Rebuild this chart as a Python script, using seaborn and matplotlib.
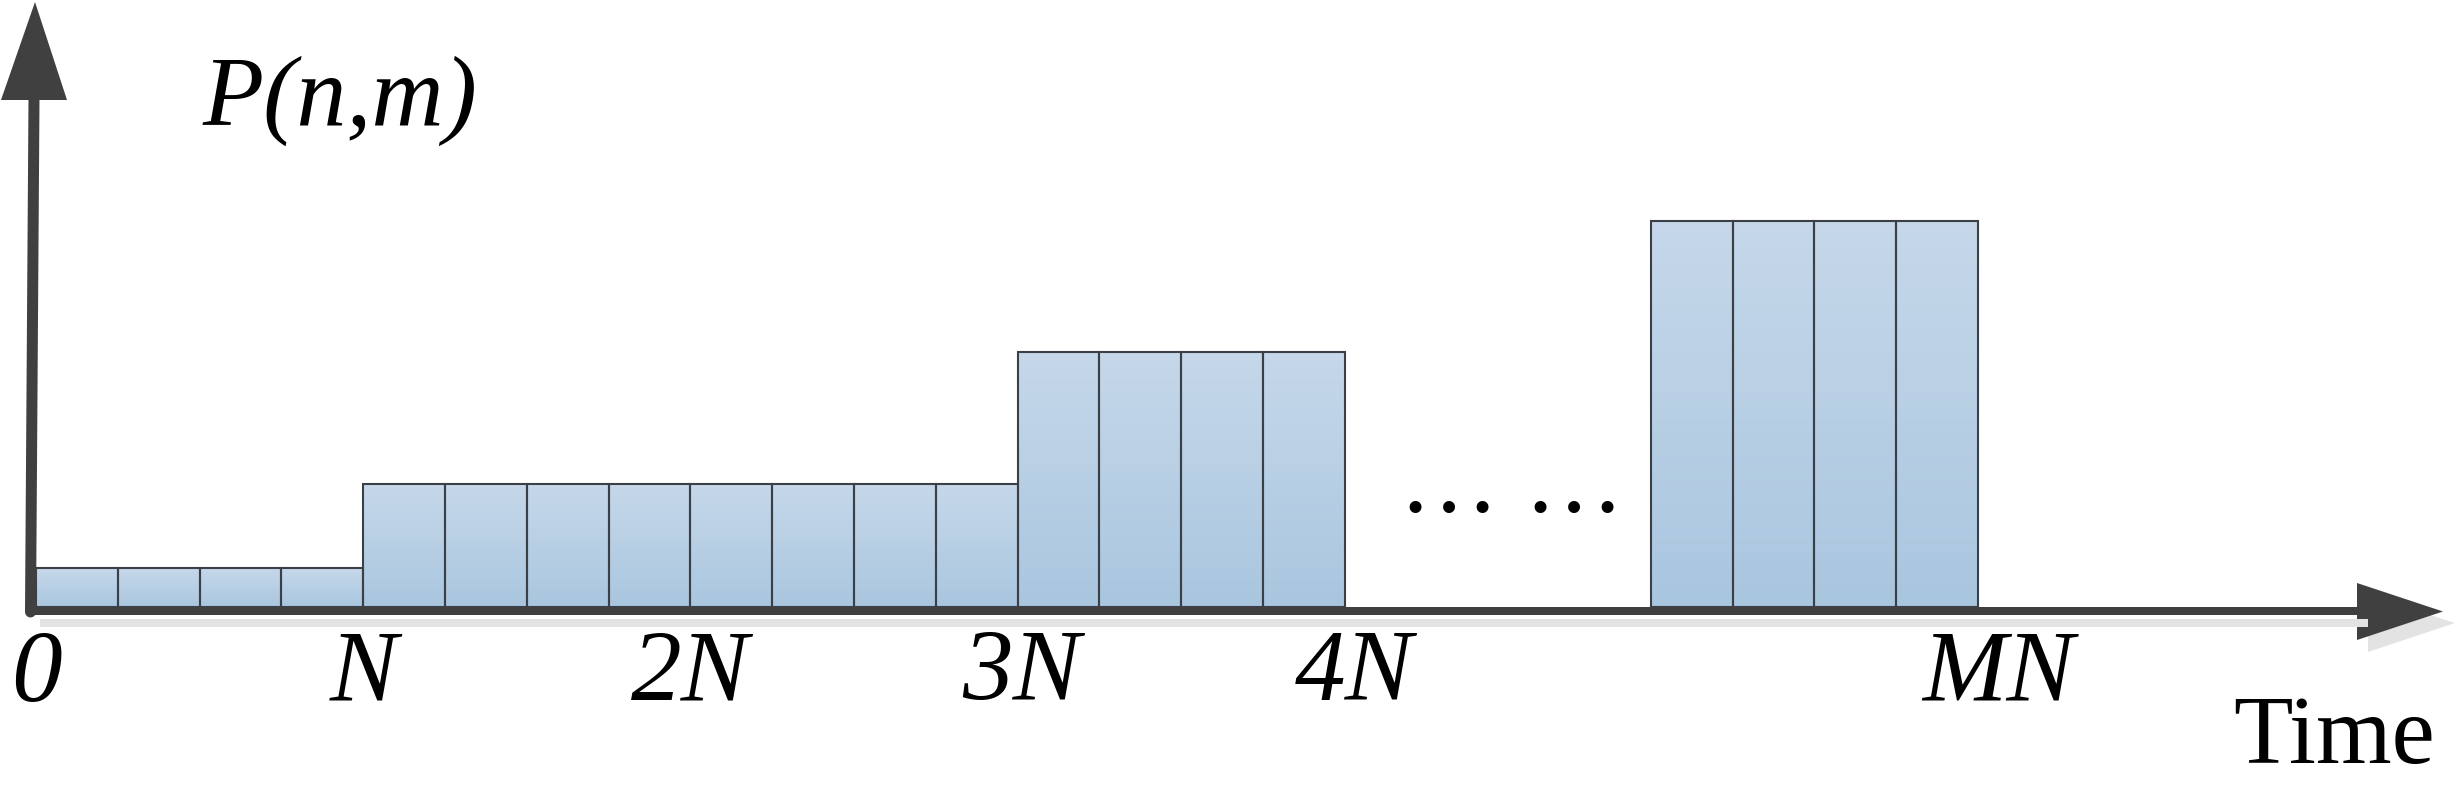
import numpy as np
import pandas as pd
import matplotlib
matplotlib.use("Agg")
import matplotlib.pyplot as plt
from matplotlib import transforms
from matplotlib.colors import LinearSegmentedColormap
import seaborn as sns

# time slots (in units of one block) and the power level drawn for each block
slot_left = [0, 1, 2, 3, 4, 5, 6, 7, 8, 9, 10, 11, 12, 13, 14, 15,
             19.74, 20.74, 21.74, 22.74]
power = [1.0, 1.0, 1.0, 1.0,
         3.15, 3.15, 3.15, 3.15, 3.15, 3.15, 3.15, 3.15,
         6.55, 6.55, 6.55, 6.55,
         9.9, 9.9, 9.9, 9.9]

tick_labels = ["0", "N", "2N", "3N", "4N", "MN"]
tick_pos = [0.0, 4.0, 8.0, 12.04, 16.11, 23.99]

y_label = "P(n,m)"
x_label = "Time"
gap_text = "\u2026"

df = pd.DataFrame({"slot": [s + 0.5 for s in slot_left], "power": power})

sns.set_style("white")
plt.rcParams["font.family"] = ["Liberation Serif", "DejaVu Serif"]

W, H = 2456, 794
fig = plt.figure(figsize=(W / 100, H / 100), dpi=100)
ax = fig.add_axes([0, 0, 1, 1])

sns.barplot(data=df, x="slot", y="power", native_scale=True, orient="x",
            width=1.0, errorbar=None, color="#b5cde4", ax=ax)

# vertical gradient fill in every bar
cmap = LinearSegmentedColormap.from_list("bar", ["#a9c6df", "#c6d8ea"])
grad = np.linspace(0, 1, 256).reshape(-1, 1)
for p in ax.patches:
    x0, y0, w, h = p.get_x(), p.get_y(), p.get_width(), p.get_height()
    im = ax.imshow(grad, cmap=cmap, origin="lower", aspect="auto",
                   extent=[x0, x0 + w, y0, y0 + h], zorder=1,
                   interpolation="bilinear")
    im.set_clip_path(p)
    p.set_facecolor("none")
    p.set_edgecolor("#3b4046")
    p.set_linewidth(1.5)
    p.set_zorder(2)

# one block = 81.8 px, one power unit = 39 px, origin at (36, 607) px
ax.set_xlim(-36 / 81.8, (W - 36) / 81.8)
ax.set_ylim(-(H - 607) / 39, 607 / 39)
ax.axis("off")

# overlay in pixel coordinates for the hand-drawn axes
deco = fig.add_axes([0, 0, 1, 1], facecolor="none")
deco.set_xlim(0, W)
deco.set_ylim(H, 0)
deco.axis("off")

px = 72 / 100
shadow = "#e3e3e3"
dark = "#404040"
# shadow of the time axis
deco.plot([40, 2368], [623, 623], color=shadow, lw=8 * px, solid_capstyle="butt")
deco.fill([2368, 2455, 2368], [595, 623, 652], color=shadow, lw=0)
# time axis
deco.plot([26, 2358], [611, 611], color=dark, lw=8 * px, solid_capstyle="butt")
deco.fill([2357, 2443, 2357], [583, 611.5, 640], color=dark, lw=0)
# power axis
deco.plot([30.5, 34], [612, 98], color=dark, lw=11 * px, solid_capstyle="round")
deco.fill([1, 35, 67], [100, 2, 100], color=dark, lw=0)

mix = transforms.blended_transform_factory(ax.transData, deco.transData)
for pos, lab in zip(tick_pos, tick_labels):
    ax.text(pos, 700, lab, transform=mix, ha="center", va="baseline",
            fontsize=73, style="italic", color="black")

deco.text(203, 125, y_label, ha="left", va="baseline", fontsize=72,
          style="italic", color="black")
deco.text(2435, 763, x_label, ha="right", va="baseline", fontsize=70,
          color="black")
for cx in (1448, 1573):
    deco.text(cx, 512, gap_text, ha="center", va="baseline", fontsize=72,
              color="black")

fig.savefig("out.png", dpi=100)
